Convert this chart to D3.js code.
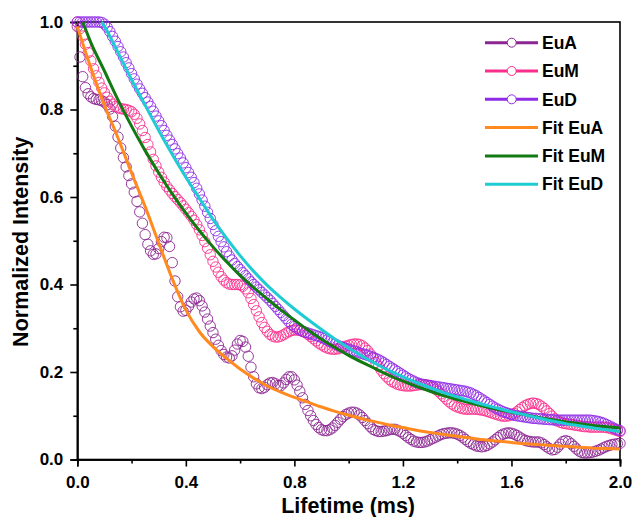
<!DOCTYPE html>
<html><head><meta charset="utf-8">
<script src="https://cdn.jsdelivr.net/npm/d3@7"></script>
<style>
body{margin:0;background:#fff}
svg{display:block}
text{font-family:"Liberation Sans",Arial,sans-serif;font-weight:bold;fill:#000}
</style>
</head><body>
<svg id="chart" width="634" height="517"></svg>
<script>
// sampling grid of the measured decays (ms)
const sampleTime = d3.range(0, 201).map(i => +(i * 0.01).toFixed(2));

const euA = [
0.990,0.920,0.875,0.850,0.836,0.829,0.825,0.823,0.822,0.820,
0.817,0.811,0.801,0.784,0.762,0.737,0.712,0.690,0.669,0.649,
0.630,0.611,0.590,0.566,0.540,0.514,0.492,0.477,0.469,0.470,
0.482,0.498,0.508,0.507,0.487,0.450,0.408,0.372,0.349,0.339,
0.341,0.350,0.360,0.367,0.369,0.363,0.351,0.337,0.321,0.305,
0.290,0.275,0.261,0.249,0.240,0.234,0.232,0.237,0.250,0.264,
0.272,0.270,0.257,0.236,0.211,0.189,0.173,0.164,0.162,0.165,
0.171,0.175,0.176,0.173,0.169,0.169,0.175,0.183,0.189,0.189,
0.182,0.170,0.156,0.141,0.126,0.112,0.100,0.089,0.080,0.073,
0.068,0.066,0.066,0.068,0.072,0.078,0.085,0.092,0.098,0.103,
0.106,0.108,0.108,0.106,0.102,0.096,0.089,0.082,0.075,0.069,
0.066,0.064,0.064,0.065,0.066,0.068,0.069,0.069,0.067,0.064,
0.060,0.055,0.050,0.046,0.042,0.040,0.039,0.039,0.040,0.042,
0.045,0.048,0.051,0.054,0.057,0.059,0.060,0.061,0.061,0.060,
0.058,0.055,0.051,0.046,0.041,0.037,0.034,0.031,0.030,0.029,
0.030,0.032,0.036,0.040,0.045,0.050,0.055,0.058,0.060,0.061,
0.060,0.058,0.055,0.051,0.047,0.044,0.042,0.041,0.040,0.040,
0.040,0.038,0.034,0.029,0.025,0.022,0.023,0.028,0.035,0.041,
0.043,0.041,0.036,0.030,0.024,0.019,0.016,0.015,0.015,0.016,
0.017,0.019,0.021,0.024,0.027,0.030,0.032,0.034,0.035,0.036,
0.037];

const euM = [
1.000,0.985,0.968,0.949,0.930,0.911,0.893,0.877,0.862,0.849,
0.838,0.828,0.819,0.812,0.807,0.804,0.802,0.801,0.800,0.798,
0.795,0.789,0.780,0.767,0.752,0.736,0.720,0.703,0.686,0.671,
0.657,0.645,0.634,0.624,0.616,0.608,0.601,0.594,0.587,0.580,
0.572,0.564,0.556,0.547,0.537,0.525,0.512,0.498,0.483,0.468,
0.453,0.440,0.428,0.418,0.410,0.404,0.401,0.400,0.400,0.400,
0.399,0.396,0.390,0.381,0.368,0.354,0.340,0.326,0.313,0.302,
0.293,0.286,0.282,0.280,0.280,0.282,0.285,0.289,0.292,0.295,
0.296,0.296,0.295,0.293,0.290,0.286,0.281,0.276,0.271,0.266,
0.262,0.258,0.255,0.253,0.252,0.252,0.253,0.255,0.257,0.259,
0.261,0.263,0.264,0.264,0.263,0.260,0.255,0.249,0.241,0.232,
0.222,0.213,0.204,0.196,0.189,0.183,0.178,0.175,0.172,0.170,
0.169,0.168,0.168,0.168,0.169,0.170,0.171,0.171,0.171,0.170,
0.168,0.165,0.161,0.156,0.150,0.144,0.138,0.132,0.127,0.123,
0.120,0.118,0.116,0.115,0.115,0.115,0.115,0.115,0.114,0.113,
0.112,0.110,0.108,0.106,0.104,0.102,0.100,0.099,0.099,0.100,
0.102,0.105,0.109,0.114,0.119,0.123,0.126,0.128,0.129,0.128,
0.126,0.122,0.117,0.111,0.105,0.099,0.093,0.088,0.085,0.083,
0.082,0.081,0.080,0.079,0.078,0.077,0.076,0.075,0.075,0.074,
0.074,0.074,0.074,0.074,0.074,0.073,0.072,0.070,0.068,0.066,
0.064];

const euD = [
1.000,1.000,1.000,1.000,1.000,1.000,1.000,1.000,1.000,0.999,
0.995,0.988,0.978,0.967,0.956,0.944,0.932,0.920,0.907,0.895,
0.882,0.870,0.858,0.847,0.837,0.827,0.817,0.807,0.796,0.785,
0.774,0.763,0.752,0.741,0.730,0.720,0.710,0.699,0.689,0.678,
0.667,0.656,0.645,0.633,0.620,0.607,0.593,0.579,0.565,0.551,
0.537,0.523,0.510,0.498,0.486,0.475,0.465,0.456,0.448,0.441,
0.434,0.427,0.420,0.413,0.406,0.400,0.394,0.388,0.382,0.376,
0.370,0.364,0.357,0.350,0.343,0.336,0.329,0.322,0.315,0.309,
0.304,0.300,0.296,0.293,0.291,0.289,0.287,0.285,0.283,0.281,
0.279,0.276,0.273,0.270,0.267,0.264,0.261,0.258,0.256,0.254,
0.252,0.250,0.248,0.246,0.244,0.242,0.240,0.238,0.236,0.234,
0.231,0.228,0.225,0.221,0.217,0.213,0.209,0.205,0.201,0.197,
0.193,0.189,0.185,0.182,0.179,0.176,0.174,0.172,0.171,0.170,
0.169,0.168,0.167,0.166,0.165,0.164,0.163,0.162,0.161,0.160,
0.159,0.158,0.157,0.156,0.154,0.152,0.149,0.146,0.142,0.138,
0.134,0.130,0.126,0.122,0.118,0.115,0.112,0.109,0.107,0.105,
0.103,0.101,0.100,0.099,0.098,0.097,0.096,0.095,0.094,0.094,
0.093,0.093,0.092,0.092,0.091,0.091,0.090,0.090,0.090,0.090,
0.090,0.090,0.090,0.090,0.090,0.090,0.090,0.090,0.090,0.090,
0.089,0.088,0.087,0.085,0.083,0.080,0.077,0.074,0.071,0.068,
0.066];

const fitEuATime = [0,0.05,0.1,0.15,0.2,0.25,0.3,0.35,0.4,0.45,0.5,0.55,0.6,0.65,0.7,0.75,0.8,0.85,0.9,0.95,1.0,1.05,1.1,1.15,1.2,1.25,1.3,1.35,1.4,1.45,1.5,1.55,1.6,1.65,1.7,1.75,1.8,1.85,1.9,1.95,2.0];
const fitEuA = [0.99,0.895,0.81,0.735,0.655,0.578,0.495,0.413,0.342,0.292,0.258,0.231,0.207,0.186,0.168,0.154,0.142,0.131,0.12,0.11,0.101,0.093,0.086,0.079,0.073,0.067,0.062,0.057,0.053,0.049,0.045,0.042,0.039,0.036,0.034,0.032,0.03,0.028,0.026,0.025,0.024];

const fitEuMTime = [0.02,0.05,0.1,0.15,0.2,0.25,0.3,0.35,0.4,0.45,0.5,0.55,0.6,0.65,0.7,0.75,0.8,0.85,0.9,0.95,1.0,1.05,1.1,1.15,1.2,1.25,1.3,1.35,1.4,1.45,1.5,1.55,1.6,1.65,1.7,1.75,1.8,1.85,1.9,1.95,2.0];
const fitEuM = [1.0,0.953,0.888,0.822,0.762,0.706,0.655,0.607,0.563,0.523,0.486,0.452,0.421,0.393,0.367,0.342,0.319,0.296,0.275,0.256,0.238,0.222,0.207,0.192,0.179,0.167,0.156,0.146,0.137,0.129,0.121,0.114,0.108,0.102,0.096,0.091,0.086,0.082,0.078,0.075,0.072];

const fitEuDTime = [0.09,0.1,0.15,0.2,0.25,0.3,0.35,0.4,0.45,0.5,0.55,0.6,0.65,0.7,0.75,0.8,0.85,0.9,0.95,1.0,1.05,1.1,1.15,1.2,1.25,1.3,1.35,1.4,1.45,1.5,1.55,1.6,1.65,1.7,1.75,1.8,1.85,1.9,1.95,2.0];
const fitEuD = [1.0,0.99,0.93,0.868,0.81,0.752,0.697,0.645,0.597,0.549,0.506,0.466,0.43,0.398,0.37,0.344,0.32,0.297,0.275,0.255,0.236,0.219,0.203,0.189,0.176,0.164,0.153,0.143,0.134,0.125,0.117,0.109,0.102,0.095,0.088,0.082,0.077,0.072,0.068,0.064];

const seriesNames = ["EuA", "EuM", "EuD", "Fit EuA", "Fit EuM", "Fit EuD"];
const seriesColors = ["#8A2591", "#FA2E8C", "#8F2BE6", "#FF8A1F", "#117A12", "#1FCCD2"];

const xMajor = [0, 0.4, 0.8, 1.2, 1.6, 2.0];
const xMinor = [0.2, 0.6, 1.0, 1.4, 1.8];
const yMajor = [0, 0.2, 0.4, 0.6, 0.8, 1.0];
const yMinor = [0.1, 0.3, 0.5, 0.7, 0.9];
const xTitle = "Lifetime (ms)";
const yTitle = "Normalized Intensity";

// ---- drawing ----
const svg = d3.select("#chart");
const L = 77.3, R = 620, T = 22, B = 459.5;
const x = d3.scaleLinear().domain([0, 2]).range([L, R]);
const y = d3.scaleLinear().domain([0, 1]).range([B, T]);

// frame
svg.append("rect").attr("x", L).attr("y", T).attr("width", R - L).attr("height", B - T)
  .attr("fill", "none").attr("stroke", "#000").attr("stroke-width", 1.6);

const fmt = d3.format(".1f");
const gx = svg.append("g").attr("transform", `translate(0,${B})`)
  .call(d3.axisBottom(x).tickValues(xMajor).tickFormat(fmt).tickSize(7).tickPadding(9));
const gxm = svg.append("g").attr("transform", `translate(0,${B})`)
  .call(d3.axisBottom(x).tickValues(xMinor).tickFormat("").tickSize(4));
const gy = svg.append("g").attr("transform", `translate(${L},0)`)
  .call(d3.axisLeft(y).tickValues(yMajor).tickFormat(fmt).tickSize(7).tickPadding(7));
const gym = svg.append("g").attr("transform", `translate(${L},0)`)
  .call(d3.axisLeft(y).tickValues(yMinor).tickFormat("").tickSize(4));
[gx, gxm, gy, gym].forEach(g => {
  g.select(".domain").attr("stroke", "#000").attr("stroke-width", 1.6);
  g.selectAll(".tick line").attr("stroke", "#000").attr("stroke-width", 1.6);
  g.selectAll("text").style("font-size", "17px").attr("fill", "#000");
});

svg.append("text").attr("x", (L + R) / 2 - 0.5).attr("y", 513).attr("text-anchor", "middle")
  .style("font-size", "21.5px").text(xTitle);
svg.append("text").attr("transform", `translate(28,${(T + B) / 2 + 1}) rotate(-90)`)
  .attr("text-anchor", "middle").style("font-size", "21.5px").text(yTitle);

// measured data as open circles
const dataSeries = [euA, euM, euD];
dataSeries.forEach((vals, i) => {
  svg.append("g").selectAll("circle").data(vals).join("circle")
    .attr("cx", (d, j) => x(sampleTime[j]))
    .attr("cy", d => y(d))
    .attr("r", 5.2)
    .attr("fill", "none")
    .attr("stroke", seriesColors[i])
    .attr("stroke-width", 0.9);
});

// fits
const fits = [[fitEuATime, fitEuA], [fitEuMTime, fitEuM], [fitEuDTime, fitEuD]];
const line = d3.line().curve(d3.curveMonotoneX).x(d => x(d[0])).y(d => y(d[1]));
fits.forEach(([ts, vs], i) => {
  svg.append("path").datum(ts.map((t, j) => [t, vs[j]]))
    .attr("d", line).attr("fill", "none")
    .attr("stroke", seriesColors[3 + i]).attr("stroke-width", 3);
});

// legend
const lg = svg.append("g");
seriesNames.forEach((name, i) => {
  const yy = 42.7 + i * 28.3;
  lg.append("line").attr("x1", 485).attr("x2", 538).attr("y1", yy).attr("y2", yy)
    .attr("stroke", seriesColors[i]).attr("stroke-width", 3);
  if (i < 3) {
    lg.append("circle").attr("cx", 511.7).attr("cy", yy).attr("r", 4.5)
      .attr("fill", "#fff").attr("stroke", seriesColors[i]).attr("stroke-width", 1);
  }
  lg.append("text").attr("x", 542).attr("y", yy + 6.2).style("font-size", "17.5px").text(name);
});
</script>
</body></html>
